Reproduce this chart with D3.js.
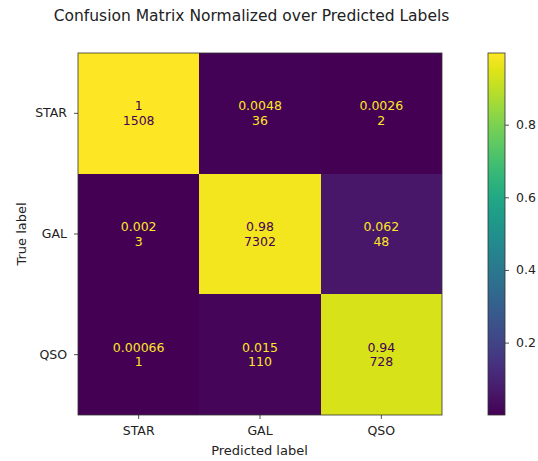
<!DOCTYPE html>
<html>
<head>
<meta charset="utf-8">
<script src="https://cdn.jsdelivr.net/npm/d3@7"></script>
<style>
  html, body { margin: 0; padding: 0; background: #fff; }
  svg { display: block; font-family: "DejaVu Sans", sans-serif; }
</style>
</head>
<body>
<svg id="chart" width="538" height="461"></svg>
<script>
// Class labels (rows = true label, columns = predicted label)
const classes = ["STAR", "GAL", "QSO"];
// Raw counts per true-label row
const countsStar = [1508, 36, 2];
const countsGal = [3, 7302, 48];
const countsQso = [1, 110, 728];
const colorbarTicks = [0.2, 0.4, 0.6, 0.8];

const counts = [countsStar, countsGal, countsQso];
// Normalize each column by the number of predictions for that class
const colTotals = classes.map((_, j) => d3.sum(counts, r => r[j]));
const cells = [];
counts.forEach((row, i) => row.forEach((c, j) => {
  cells.push({ row: i, col: j, count: c, value: c / colTotals[j] });
}));

const vmin = d3.min(cells, d => d.value);
const vmax = d3.max(cells, d => d.value);
const color = d3.scaleSequential(d3.interpolateViridis).domain([vmin, vmax]);
const fmt = d3.format(".2~g");

const FS = 12.5;
const svg = d3.select("#chart");
const m = { left: 78, top: 53, right: 442, bottom: 415 };

const x = d3.scaleBand().domain(classes).range([m.left, m.right]);
const y = d3.scaleBand().domain(classes).range([m.top, m.bottom]);
// Pixel-snapped cell edges so neighbouring cells meet without seams
const x0 = c => Math.round(x(c));
const x1 = c => Math.round(x(c) + x.bandwidth());
const y0 = c => Math.round(y(c));
const y1 = c => Math.round(y(c) + y.bandwidth());

// Title
svg.append("text")
  .attr("x", 251.5).attr("y", 21)
  .attr("text-anchor", "middle")
  .attr("font-size", 15.5)
  .attr("fill", "#222")
  .text("Confusion Matrix Normalized over Predicted Labels");

// Heatmap cells
svg.append("g").attr("shape-rendering", "crispEdges")
  .selectAll("rect").data(cells).join("rect")
  .attr("x", d => x0(classes[d.col]))
  .attr("y", d => y0(classes[d.row]))
  .attr("width", d => x1(classes[d.col]) - x0(classes[d.col]))
  .attr("height", d => y1(classes[d.row]) - y0(classes[d.row]))
  .attr("fill", d => color(d.value));

// Cell annotations: normalized value and count
const thresh = (vmin + vmax) / 2;
const labels = svg.append("g").selectAll("text").data(cells).join("text")
  .attr("text-anchor", "middle")
  .attr("font-size", FS)
  .attr("fill", d => d.value < thresh ? color(vmax) : color(vmin));
labels.append("tspan")
  .attr("x", d => x(classes[d.col]) + x.bandwidth() / 2)
  .attr("y", d => y(classes[d.row]) + y.bandwidth() / 2 - 3)
  .text(d => fmt(d.value));
labels.append("tspan")
  .attr("x", d => x(classes[d.col]) + x.bandwidth() / 2)
  .attr("y", d => y(classes[d.row]) + y.bandwidth() / 2 + 11.5)
  .text(d => d.count);

// Frame
svg.append("rect")
  .attr("x", m.left).attr("y", m.top)
  .attr("width", m.right - m.left).attr("height", m.bottom - m.top)
  .attr("fill", "none").attr("stroke", "#333").attr("stroke-width", 0.8);

// Axes
function styleAxis(g) {
  g.select(".domain").remove();
  g.selectAll(".tick line").attr("stroke", "#222").attr("stroke-width", 0.8);
  g.selectAll(".tick text").attr("font-size", FS).attr("fill", "#222")
    .attr("font-family", "DejaVu Sans, sans-serif");
}
svg.append("g")
  .attr("transform", `translate(0,${m.bottom})`)
  .call(d3.axisBottom(x).tickSize(4).tickPadding(7))
  .call(styleAxis);
svg.append("g")
  .attr("transform", `translate(${m.left},0)`)
  .call(d3.axisLeft(y).tickSize(4).tickPadding(7))
  .call(styleAxis);

svg.append("text")
  .attr("x", (m.left + m.right) / 2 - 0.5).attr("y", 455)
  .attr("text-anchor", "middle").attr("font-size", 13).attr("fill", "#222")
  .text("Predicted label");
svg.append("text")
  .attr("transform", `translate(26,${(m.top + m.bottom) / 2}) rotate(-90)`)
  .attr("text-anchor", "middle").attr("font-size", 13).attr("fill", "#222")
  .text("True label");

// Colorbar
const cb = { x: 488, w: 17 };
const cbScale = d3.scaleLinear().domain([vmin, vmax]).range([m.bottom, m.top]);
const defs = svg.append("defs");
const grad = defs.append("linearGradient").attr("id", "cbgrad")
  .attr("x1", 0).attr("y1", 1).attr("x2", 0).attr("y2", 0);
d3.range(0, 1.0001, 0.05).forEach(t => {
  grad.append("stop").attr("offset", t).attr("stop-color", d3.interpolateViridis(t));
});
svg.append("rect")
  .attr("x", cb.x).attr("y", m.top)
  .attr("width", cb.w).attr("height", m.bottom - m.top)
  .attr("fill", "url(#cbgrad)")
  .attr("stroke", "#333").attr("stroke-width", 0.8);
svg.append("g")
  .attr("transform", `translate(${cb.x + cb.w},0)`)
  .call(d3.axisRight(cbScale).tickValues(colorbarTicks).tickFormat(d3.format(".1f")).tickSize(4).tickPadding(7))
  .call(styleAxis);
</script>
</body>
</html>
